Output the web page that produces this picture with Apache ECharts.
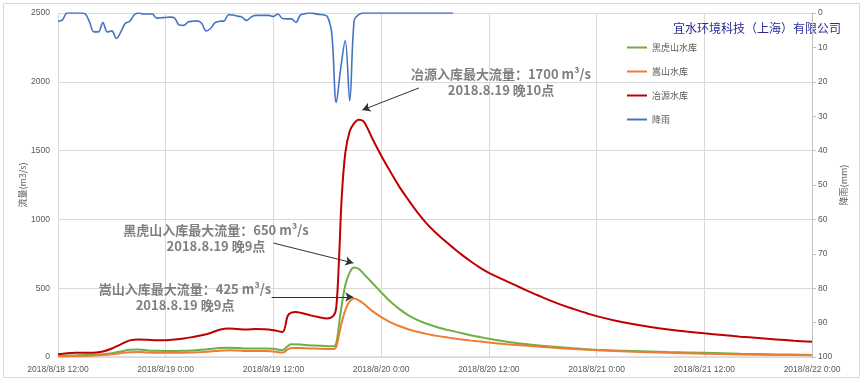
<!DOCTYPE html>
<html><head><meta charset="utf-8">
<script src="https://cdn.jsdelivr.net/npm/echarts@6/dist/echarts.min.js"></script>
<style>html,body{margin:0;padding:0;background:#fff}#c{width:865px;height:383px}</style>
</head><body><div id="c"></div>
<script>
// hours since 2018/8/18 12:00
var xTickLabels = ['2018/8/18 12:00','2018/8/19 0:00','2018/8/19 12:00','2018/8/20 0:00','2018/8/20 12:00','2018/8/21 0:00','2018/8/21 12:00','2018/8/22 0:00'];
var seriesNames = ['黑虎山水库','嵩山水库','冶源水库','降雨'];

var heihushan = [[0,7],[1,10],[2,12],[3,14],[4,16],[5,20],[6,28],[7,40],[8,52],[9,54],[10,48],[11,45],[12,44],[13,44],[14,45],[15,48],[16,52],[17,58],[18,65],[19,68],[20,66],[21,62],[22,62],[23,62],[24,60],[25,50],[25.6,80],[26,92],[27,90],[28,85],[29,82],[30,79],[30.7,78],[31,100],[31.5,330],[32,520],[32.5,615],[33,650],[33.5,640],[34,608],[35,540],[36,470],[37,405],[38,350],[39,305],[40,270],[41,243],[42,222],[43,204],[44,188],[45,172],[46,158],[47,145],[48,133],[49,121],[50,111],[52,95],[54,82],[56,70],[58,61],[60,53],[64,44],[68,36],[72,30],[76,24],[80,19],[84,15]];
var songshan = [[0,5],[1,6],[2,7],[3,8],[4,10],[5,14],[6,20],[7,28],[8,35],[9,36],[10,32],[11,30],[12,30],[13,30],[14,31],[15,33],[16,36],[17,40],[18,46],[19,49],[20,47],[21,44],[22,44],[23,43],[24,40],[25,32],[25.6,55],[26,66],[27,65],[28,62],[29,60],[30,58],[30.7,58],[31,75],[31.5,220],[32,340],[32.5,405],[33,425],[33.5,412],[34,390],[35,335],[36,290],[37,254],[38,225],[39,202],[40,184],[41,168],[42,156],[43,145],[44,136],[45,127],[46,119],[48,105],[50,93],[52,83],[54,73],[56,64],[58,56],[60,49],[64,38],[68,30],[72,24],[76,19],[80,15],[84,12]];
var yeyuan = [[0,20],[1,28],[2,30],[3,30],[4,31],[5,40],[6,62],[7,92],[8,121],[9,128],[10,125],[11,121],[12,122],[13,127],[14,134],[15,145],[16,158],[17,175],[18,198],[19,207],[20,203],[21,200],[22,203],[23,202],[24,195],[25,182],[25.6,300],[26,322],[26.5,327],[27,322],[28,305],[29,290],[30,280],[30.7,300],[31,360],[31.3,700],[31.6,1150],[32,1480],[32.5,1640],[33,1700],[33.5,1725],[34,1715],[34.5,1660],[35,1590],[36,1465],[37,1350],[38,1240],[39,1145],[40,1055],[41,975],[42,908],[43,850],[44,795],[45,742],[46,694],[47,650],[48,612],[49,580],[50,550],[51,520],[52,490],[53,461],[54,433],[55,406],[56,381],[57,358],[58,337],[59,316],[60,297],[62,266],[64,240],[66,218],[68,200],[70,185],[72,172],[74,160],[76,148],[78,138],[80,128],[82,118],[84,110]];
var rain = [[0,2.4],[0.5,2.0],[1,0],[1.5,0],[2,0],[2.5,0],[3,0.2],[3.5,2.5],[4,5.5],[4.5,5.5],[5,2.8],[5.5,5.5],[6,5.2],[6.5,7.4],[7,5.5],[7.5,3],[8,2.4],[8.5,0.5],[9,0],[9.5,0.3],[10,0.3],[10.5,0.3],[11,1.5],[11.5,1.4],[12,1.3],[12.5,1.2],[13,1.5],[13.5,3.5],[14,3.6],[14.5,2.6],[15,2.4],[15.5,2.3],[16,3],[16.5,5.2],[17,4.5],[17.5,2.8],[18,2.4],[18.5,2.3],[19,0.5],[19.5,0.6],[20,0.9],[20.5,1.2],[21,2.2],[21.5,1.2],[22,0.7],[22.5,0.7],[23,0.7],[23.5,0.7],[24,1.0],[24.5,0.3],[25,1.6],[25.5,1.7],[26,1.7],[26.5,2.7],[27,0.6],[27.5,0.2],[28,0],[28.5,0.1],[29,0.4],[29.5,0.5],[30,1.0],[30.5,6],[31,26],[31.5,16],[32,8],[32.5,25.5],[33,2],[33.5,0.5],[34,0],[35,0],[36,0],[37,0],[38,0],[39,0],[40,0],[41,0],[42,0],[43,0],[44,0]];

// annotations: text, anchor [hour, flow]; arrows: [from, to]
var annoTexts = ['冶源入库最大流量：1700 m³/s\n2018.8.19 晚10点','黑虎山入库最大流量：650 m³/s\n2018.8.19 晚9点','嵩山入库最大流量：425 m³/s\n2018.8.19 晚9点'];
var annoAnchors = [[49.35,2000],[17.6,865],[14.15,436]];
var arrows = [[[40.2,1955],[33.9,1795]],[[24.0,828],[32.9,683]],[[23.8,436],[32.9,436]]];

var colors = ['#70AD47','#ED7D31','#C00000','#4472C4'];
var chart = echarts.init(document.getElementById('c'));
var axisFont = {fontFamily:'Liberation Sans, sans-serif', fontSize:8.5, color:'#595959'};
var cjk = "'Noto Sans CJK SC', sans-serif";

function lineSeries(name, data, color, yIdx, width) {
  return {name:name, type:'line', data:data, yAxisIndex:yIdx, symbol:'none', smooth:0.35,
    lineStyle:{color:color, width:width}, itemStyle:{color:color}, animation:false};
}
var s = [
  lineSeries(seriesNames[0], heihushan, colors[0], 0, 2),
  lineSeries(seriesNames[1], songshan, colors[1], 0, 2),
  lineSeries(seriesNames[2], yeyuan, colors[2], 0, 2),
  lineSeries(seriesNames[3], rain, colors[3], 1, 1.6)
];
s[2].markLine = {silent:true, animation:false, symbol:['none','arrow'], symbolSize:[7,8],
  lineStyle:{color:'#303030', width:1, type:'solid'}, label:{show:false},
  data: arrows.map(function(a){return [{coord:a[0]},{coord:a[1]}];})};

var option = {
  animation:false,
  grid:{left:58, right:53, top:13, bottom:26},
  legend:{orient:'vertical', left:622, top:38, itemGap:15, itemWidth:20, itemHeight:2, icon:'rect',
    textStyle:{fontFamily:cjk, fontSize:9, color:'#595959'}, data:seriesNames},
  xAxis:{type:'value', min:0, max:84, interval:12,
    axisLine:{lineStyle:{color:'#d9d9d9', width:1.5}}, axisTick:{show:false},
    axisLabel:Object.assign({margin:8, formatter:function(v){return xTickLabels[Math.round(v/12)];}}, axisFont),
    splitLine:{show:true, lineStyle:{color:'#d9d9d9'}}},
  yAxis:[
    {type:'value', min:0, max:2500, interval:500, name:'流量(m3/s)', nameLocation:'middle', nameGap:31, nameRotate:90, nameMoveOverlap:false,
      nameTextStyle:{fontFamily:cjk, fontSize:9, color:'#595959'},
      axisLine:{show:false}, axisTick:{show:false},
      axisLabel:Object.assign({margin:8, formatter:function(v){return String(v);}}, axisFont),
      splitLine:{lineStyle:{color:'#d9d9d9'}}},
    {type:'value', min:0, max:100, interval:10, inverse:true, position:'right', name:'降雨(mm)', nameLocation:'middle', nameGap:27, nameRotate:90, nameMoveOverlap:false,
      nameTextStyle:{fontFamily:cjk, fontSize:9, color:'#595959'},
      axisLine:{show:true, lineStyle:{color:'#bfbfbf'}}, axisTick:{show:true, length:4, lineStyle:{color:'#bfbfbf'}},
      axisLabel:Object.assign({margin:6, formatter:function(v){return String(v);}}, axisFont),
      splitLine:{show:false}}
  ],
  series:s
};
chart.setOption(option);

var g = [{type:'rect', shape:{x:3.5, y:3.5, width:856, height:374}, style:{fill:'none', stroke:'#d9d9d9', lineWidth:1}, silent:true},
  {type:'text', left:673, top:22, style:{text:'宜水环境科技（上海）有限公司', fontFamily:cjk, fontSize:12, fill:'#2B2B9B'}, silent:true}];
annoTexts.forEach(function(t, i){
  var p = chart.convertToPixel({xAxisIndex:0, yAxisIndex:0}, annoAnchors[i]);
  g.push({type:'text', x:p[0], y:p[1], style:{text:t, fontFamily:cjk, fontSize:13, fontWeight:'bold', fill:'#7F7F7F', align:'center', verticalAlign:'middle', lineHeight:16}, silent:true, z:10});
});
chart.setOption({graphic:g});
</script></body></html>
